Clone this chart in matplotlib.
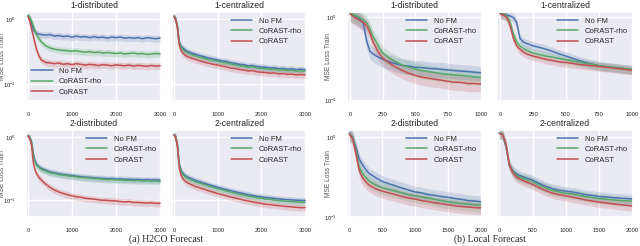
import matplotlib
matplotlib.use('Agg')
import matplotlib.pyplot as plt
import seaborn as sns
import numpy as np
from matplotlib.ticker import NullFormatter

sns.set_theme(style='darkgrid')
plt.rcParams['font.family'] = ['Liberation Sans', 'DejaVu Sans']

labels = ['No FM', 'CoRAST-rho', 'CoRAST']
colors = ['#4C72B0', '#55A868', '#C44E52']

# H2CO forecast, iterations 0..3000
x_h2co = [0, 40, 80, 120, 160, 200, 250, 300, 400, 500, 600, 700, 800, 900, 1000, 1100, 1200,
          1300, 1400, 1500, 1600, 1700, 1800, 1900, 2000, 2100, 2200, 2300, 2400, 2500, 2600,
          2700, 2800, 2900, 3000]

h1d_nofm = [1.15, 1.05, 0.85, 0.70, 0.63, 0.61, 0.59, 0.58, 0.57, 0.58, 0.55, 0.56, 0.54, 0.55, 0.53,
            0.55, 0.53, 0.54, 0.52, 0.54, 0.52, 0.53, 0.51, 0.53, 0.52, 0.53, 0.51, 0.52, 0.51, 0.52,
            0.50, 0.52, 0.51, 0.50, 0.51]
h1d_rho = [1.15, 1.08, 0.95, 0.80, 0.66, 0.57, 0.50, 0.45, 0.39, 0.36, 0.345, 0.335, 0.33, 0.325, 0.32,
           0.325, 0.315, 0.31, 0.315, 0.305, 0.31, 0.30, 0.305, 0.30, 0.295, 0.30, 0.29, 0.295, 0.30,
           0.29, 0.295, 0.285, 0.29, 0.295, 0.29]
h1d_corast = [1.10, 0.95, 0.72, 0.55, 0.42, 0.33, 0.27, 0.235, 0.215, 0.21, 0.205, 0.21, 0.20, 0.205,
              0.198, 0.205, 0.20, 0.195, 0.20, 0.197, 0.192, 0.198, 0.195, 0.19, 0.197, 0.193, 0.19,
              0.195, 0.188, 0.193, 0.19, 0.186, 0.192, 0.188, 0.19]

h1c_nofm = [1.12, 1.02, 0.78, 0.45, 0.39, 0.36, 0.34, 0.32, 0.30, 0.285, 0.272, 0.262, 0.25, 0.243,
            0.235, 0.226, 0.222, 0.212, 0.207, 0.20, 0.197, 0.19, 0.192, 0.185, 0.182, 0.18, 0.176,
            0.177, 0.171, 0.173, 0.168, 0.171, 0.165, 0.168, 0.165]
h1c_rho = [1.12, 1.0, 0.76, 0.43, 0.37, 0.34, 0.32, 0.305, 0.285, 0.27, 0.258, 0.248, 0.238, 0.23,
           0.224, 0.215, 0.21, 0.202, 0.197, 0.19, 0.187, 0.181, 0.182, 0.176, 0.173, 0.171, 0.167,
           0.168, 0.163, 0.164, 0.16, 0.162, 0.157, 0.159, 0.157]
h1c_corast = [1.10, 0.98, 0.72, 0.40, 0.33, 0.30, 0.28, 0.265, 0.25, 0.238, 0.225, 0.215, 0.208, 0.2,
              0.195, 0.188, 0.183, 0.175, 0.172, 0.166, 0.163, 0.158, 0.16, 0.153, 0.151, 0.149,
              0.146, 0.147, 0.142, 0.144, 0.14, 0.141, 0.137, 0.139, 0.137]

h2d_nofm = [1.05, 1.0, 0.85, 0.55, 0.42, 0.37, 0.34, 0.32, 0.30, 0.28, 0.272, 0.262, 0.256, 0.25,
            0.246, 0.24, 0.236, 0.232, 0.23, 0.226, 0.224, 0.222, 0.219, 0.22, 0.216, 0.217, 0.214,
            0.215, 0.212, 0.213, 0.21, 0.212, 0.209, 0.21, 0.208]
h2d_rho = [1.05, 0.99, 0.83, 0.52, 0.40, 0.355, 0.33, 0.31, 0.29, 0.272, 0.265, 0.255, 0.25, 0.244,
           0.24, 0.234, 0.23, 0.227, 0.224, 0.22, 0.218, 0.215, 0.212, 0.213, 0.209, 0.21, 0.206,
           0.207, 0.204, 0.205, 0.202, 0.203, 0.2, 0.201, 0.199]
h2d_corast = [1.05, 0.95, 0.75, 0.40, 0.30, 0.26, 0.23, 0.21, 0.18, 0.16, 0.145, 0.135, 0.128, 0.122,
              0.117, 0.113, 0.111, 0.107, 0.105, 0.104, 0.101, 0.100, 0.099, 0.098, 0.097, 0.095,
              0.094, 0.095, 0.092, 0.092, 0.091, 0.090, 0.091, 0.089, 0.089]

h2c_nofm = [1.10, 1.02, 0.75, 0.38, 0.30, 0.27, 0.25, 0.235, 0.22, 0.205, 0.195, 0.185, 0.176, 0.168,
            0.16, 0.154, 0.147, 0.141, 0.136, 0.131, 0.127, 0.122, 0.119, 0.115, 0.113, 0.110,
            0.109, 0.106, 0.105, 0.103, 0.102, 0.101, 0.100, 0.099, 0.099]
h2c_rho = [1.10, 1.01, 0.73, 0.36, 0.285, 0.257, 0.238, 0.224, 0.209, 0.195, 0.186, 0.176, 0.167,
           0.16, 0.152, 0.146, 0.14, 0.134, 0.129, 0.124, 0.12, 0.116, 0.113, 0.109, 0.107, 0.104,
           0.103, 0.1, 0.099, 0.097, 0.096, 0.095, 0.094, 0.093, 0.093]
h2c_corast = [1.08, 0.98, 0.70, 0.33, 0.25, 0.22, 0.202, 0.19, 0.176, 0.164, 0.156, 0.148, 0.14,
              0.134, 0.127, 0.122, 0.117, 0.112, 0.108, 0.104, 0.1, 0.097, 0.094, 0.091, 0.089,
              0.086, 0.085, 0.083, 0.082, 0.08, 0.079, 0.078, 0.077, 0.076, 0.076]

# Local forecast
x_loc1 = [0, 25, 50, 75, 100, 125, 150, 175, 200, 225, 250, 300, 350, 400, 450, 500, 550, 600,
          650, 700, 750, 800, 850, 900, 950, 1000]

l1d_nofm = [1.10, 1.05, 1.0, 0.93, 0.84, 0.52, 0.39, 0.36, 0.34, 0.325, 0.31, 0.29, 0.275, 0.262,
            0.258, 0.25, 0.248, 0.242, 0.24, 0.236, 0.232, 0.228, 0.225, 0.222, 0.218, 0.215]
l1d_rho = [1.10, 1.06, 1.02, 0.97, 0.92, 0.85, 0.72, 0.58, 0.50, 0.42, 0.37, 0.32, 0.29, 0.265,
           0.25, 0.238, 0.228, 0.222, 0.216, 0.21, 0.206, 0.202, 0.2, 0.196, 0.192, 0.19]
l1d_corast = [1.08, 1.0, 0.95, 0.90, 0.86, 0.78, 0.65, 0.50, 0.42, 0.36, 0.32, 0.28, 0.25, 0.228,
              0.212, 0.2, 0.19, 0.185, 0.18, 0.175, 0.17, 0.166, 0.165, 0.16, 0.16, 0.158]

l1c_nofm = [1.10, 1.08, 1.05, 1.02, 0.98, 0.85, 0.55, 0.50, 0.48, 0.465, 0.45, 0.43, 0.41, 0.385,
            0.36, 0.34, 0.32, 0.30, 0.285, 0.272, 0.262, 0.255, 0.25, 0.245, 0.24, 0.235]
l1c_rho = [1.10, 1.07, 1.02, 0.85, 0.62, 0.50, 0.45, 0.42, 0.40, 0.385, 0.37, 0.355, 0.34, 0.33,
           0.318, 0.308, 0.298, 0.288, 0.278, 0.27, 0.262, 0.255, 0.25, 0.245, 0.24, 0.235]
l1c_corast = [1.08, 1.04, 0.98, 0.78, 0.55, 0.45, 0.41, 0.38, 0.36, 0.35, 0.34, 0.325, 0.31, 0.30,
              0.29, 0.285, 0.278, 0.27, 0.265, 0.26, 0.255, 0.25, 0.245, 0.24, 0.235, 0.23]

x_loc2 = [0, 50, 100, 150, 200, 250, 300, 400, 500, 600, 700, 800, 900, 1000, 1100, 1200, 1300,
          1400, 1500, 1600, 1700, 1800, 1900, 2000]

l2d_nofm = [1.12, 1.0, 0.75, 0.53, 0.45, 0.39, 0.35, 0.31, 0.278, 0.26, 0.245, 0.23, 0.217, 0.205,
            0.2, 0.19, 0.186, 0.18, 0.176, 0.17, 0.166, 0.16, 0.158, 0.155]
l2d_rho = [1.10, 0.98, 0.68, 0.42, 0.35, 0.31, 0.28, 0.25, 0.23, 0.22, 0.21, 0.2, 0.19, 0.183,
           0.178, 0.172, 0.166, 0.16, 0.155, 0.15, 0.147, 0.145, 0.142, 0.14]
l2d_corast = [1.08, 0.95, 0.62, 0.38, 0.31, 0.275, 0.25, 0.225, 0.21, 0.2, 0.19, 0.18, 0.172,
              0.167, 0.16, 0.155, 0.15, 0.146, 0.142, 0.138, 0.135, 0.133, 0.131, 0.13]

l2c_nofm = [1.12, 1.08, 0.75, 0.45, 0.38, 0.35, 0.33, 0.31, 0.29, 0.262, 0.242, 0.226, 0.216,
            0.21, 0.205, 0.198, 0.19, 0.186, 0.18, 0.178, 0.175, 0.172, 0.17, 0.168]
l2c_rho = [1.12, 1.08, 0.78, 0.44, 0.37, 0.335, 0.315, 0.295, 0.275, 0.25, 0.23, 0.215, 0.205,
           0.198, 0.193, 0.186, 0.18, 0.175, 0.17, 0.167, 0.164, 0.161, 0.159, 0.158]
l2c_corast = [1.10, 1.07, 0.82, 0.45, 0.36, 0.32, 0.3, 0.275, 0.255, 0.232, 0.213, 0.198, 0.19,
              0.183, 0.177, 0.17, 0.163, 0.158, 0.153, 0.15, 0.146, 0.143, 0.14, 0.137]

panels = [
    # title, x, series, band, pixel box (left, right, top, bottom), ylim, xlim, xticks, ylabel x, legend
    ('1-distributed', x_h2co, [h1d_nofm, h1d_rho, h1d_corast], 0.12, (26, 162, 12, 101),
     (0.054, 1.3), (-45, 3045), [0, 1000, 2000, 3000], 6.5, 'lower left'),
    ('1-centralized', x_h2co, [h1c_nofm, h1c_rho, h1c_corast], 0.12, (172, 307, 12, 101),
     (0.054, 1.3), (-45, 3045), [0, 1000, 2000, 3000], None, 'upper right'),
    ('2-distributed', x_h2co, [h2d_nofm, h2d_rho, h2d_corast], 0.12, (26, 162, 130, 217),
     (0.054, 1.3), (-45, 3045), [0, 1000, 2000, 3000], 6.5, 'upper right'),
    ('2-centralized', x_h2co, [h2c_nofm, h2c_rho, h2c_corast], 0.12, (172, 307, 130, 217),
     (0.054, 1.3), (-45, 3045), [0, 1000, 2000, 3000], None, 'upper right'),
    ('1-distributed', x_loc1, [l1d_nofm, l1d_rho, l1d_corast], 0.2, (347, 482, 12, 101),
     (0.099, 1.14), (-25, 1010), [0, 250, 500, 750, 1000], 332, 'upper right'),
    ('1-centralized', x_loc1, [l1c_nofm, l1c_rho, l1c_corast], 0.12, (497, 633, 12, 101),
     (0.099, 1.14), (-25, 1010), [0, 250, 500, 750, 1000], None, 'upper right'),
    ('2-distributed', x_loc2, [l2d_nofm, l2d_rho, l2d_corast], 0.18, (347, 482, 130, 217),
     (0.1, 1.22), (-35, 2010), [0, 500, 1000, 1500, 2000], 332, 'upper right'),
    ('2-centralized', x_loc2, [l2c_nofm, l2c_rho, l2c_corast], 0.14, (497, 633, 130, 217),
     (0.1, 1.22), (-35, 2010), [0, 500, 1000, 1500, 2000], None, 'upper right'),
]

W, H = 640, 246
fig = plt.figure(figsize=(W / 100, H / 100), dpi=100)

for title, x, series, band, (l, r, t, b), ylim, xlim, xticks, ylab_x, legloc in panels:
    ax = fig.add_axes([l / W, 1 - b / H, (r - l) / W, (b - t) / H])
    for vals, lab, col in zip(series, labels, colors):
        v = np.array(vals)
        ax.fill_between(x, v * (1 - band), v * (1 + band), color=col, alpha=0.2, lw=0)
        ax.plot(x, v, color=col, lw=1.1, label=lab)
    ax.set_yscale('log')
    ax.set_ylim(*ylim)
    ax.set_xlim(*xlim)
    ax.set_xticks(xticks)
    ax.yaxis.set_minor_formatter(NullFormatter())
    ax.tick_params(labelsize=4.2, pad=2)
    ax.tick_params(axis='y', pad=1.2)
    ax.grid(which='minor', visible=False)
    ax.set_title(title, fontsize=6.2, pad=3)
    if ylab_x is not None:
        ax.set_ylabel('MSE Loss Train', fontsize=4.8, color='#555555')
        ax.yaxis.set_label_coords((ylab_x - l) / (r - l), 0.5)
    else:
        ax.set_yticklabels([])
    ax.legend(loc=legloc, fontsize=5.5, frameon=False, handlelength=2.8, labelspacing=0.4,
              borderaxespad=0.3)

fig.text(166 / W, 1 - 239 / H, '(a) H2CO Forecast', ha='center', va='center',
         family='Liberation Serif', fontsize=7)
fig.text(490 / W, 1 - 239 / H, '(b) Local Forecast', ha='center', va='center',
         family='Liberation Serif', fontsize=7)

fig.savefig('out.png', dpi=100)
